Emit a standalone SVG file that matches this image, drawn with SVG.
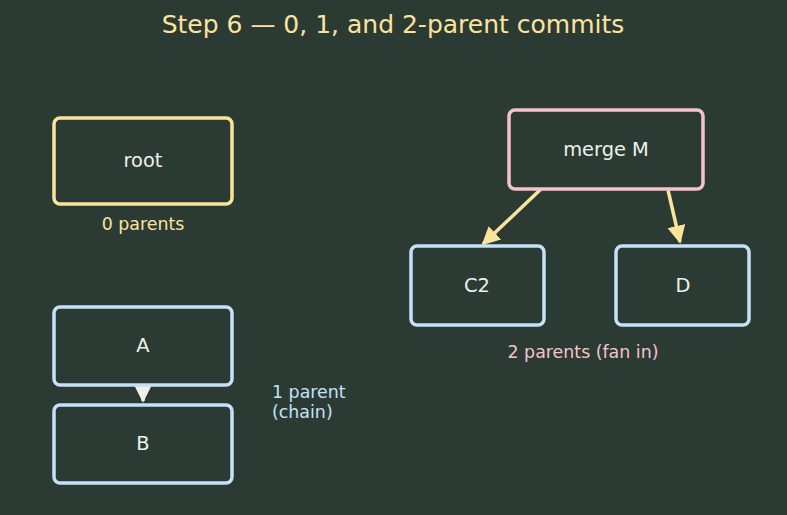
<svg xmlns="http://www.w3.org/2000/svg" width="787" height="515" viewBox="0 0 787 515">
<style>
text{font-family:"DejaVu Sans",sans-serif}
.n{fill:#2b3b34;stroke-width:3.5}
.y{stroke:#fbe39c}
.b{stroke:#c4e1f8}
.p{stroke:#f5c2cc}
.t{fill:#eef1ec;font-size:19.4px;text-anchor:middle}
.e{stroke:#fbe39c;stroke-width:3.5;fill:none}
</style>
<defs>
<marker id="ah" viewBox="0 0 10 10" refX="9" refY="5" markerWidth="5.2" markerHeight="5.2" orient="auto" markerUnits="strokeWidth"><path d="M0,0L10,5L0,10z" fill="#fbe39c"/></marker>
<marker id="aw" viewBox="0 0 10 10" refX="9" refY="5" markerWidth="5" markerHeight="5" orient="auto" markerUnits="strokeWidth"><path d="M0,0L10,5L0,10z" fill="#f2f0e6"/></marker>
</defs>
<rect width="787" height="515" fill="#2b3b34"/>
<text x="393" y="33" fill="#fbe39c" font-size="25" text-anchor="middle">Step 6 — 0, 1, and 2-parent commits</text>
<g id="edges">
<line class="e" x1="541" y1="189" x2="483" y2="244" marker-end="url(#ah)"/>
<line class="e" x1="668" y1="190" x2="680" y2="242" marker-end="url(#ah)"/>
<line x1="143" y1="386" x2="143" y2="401" stroke="#f2f0e6" stroke-width="3.5" marker-end="url(#aw)"/>
</g>
<g id="root"><rect class="n y" x="54" y="118" width="178" height="86" rx="6"/><text class="t" x="143" y="167">root</text></g>
<g id="A"><rect class="n b" x="54" y="307" width="178" height="78" rx="6"/><text class="t" x="143" y="352">A</text></g>
<g id="B"><rect class="n b" x="54" y="405" width="178" height="78" rx="6"/><text class="t" x="143" y="450">B</text></g>
<g id="M"><rect class="n p" x="509" y="110" width="194" height="79" rx="6"/><text class="t" x="606" y="156">merge M</text></g>
<g id="C2"><rect class="n b" x="411" y="246" width="133" height="79" rx="6"/><text class="t" x="477" y="292">C2</text></g>
<g id="D"><rect class="n b" x="616" y="246" width="133" height="79" rx="6"/><text class="t" x="683" y="292">D</text></g>
<text x="143" y="230" fill="#fbe39c" font-size="17.4" text-anchor="middle">0 parents</text>
<text x="272" y="398" fill="#c4e1f8" font-size="17.4">1 parent</text>
<text x="272" y="418" fill="#c4e1f8" font-size="17.4">(chain)</text>
<text x="583" y="358" fill="#f5c2cc" font-size="17.4" text-anchor="middle">2 parents (fan in)</text>
</svg>
